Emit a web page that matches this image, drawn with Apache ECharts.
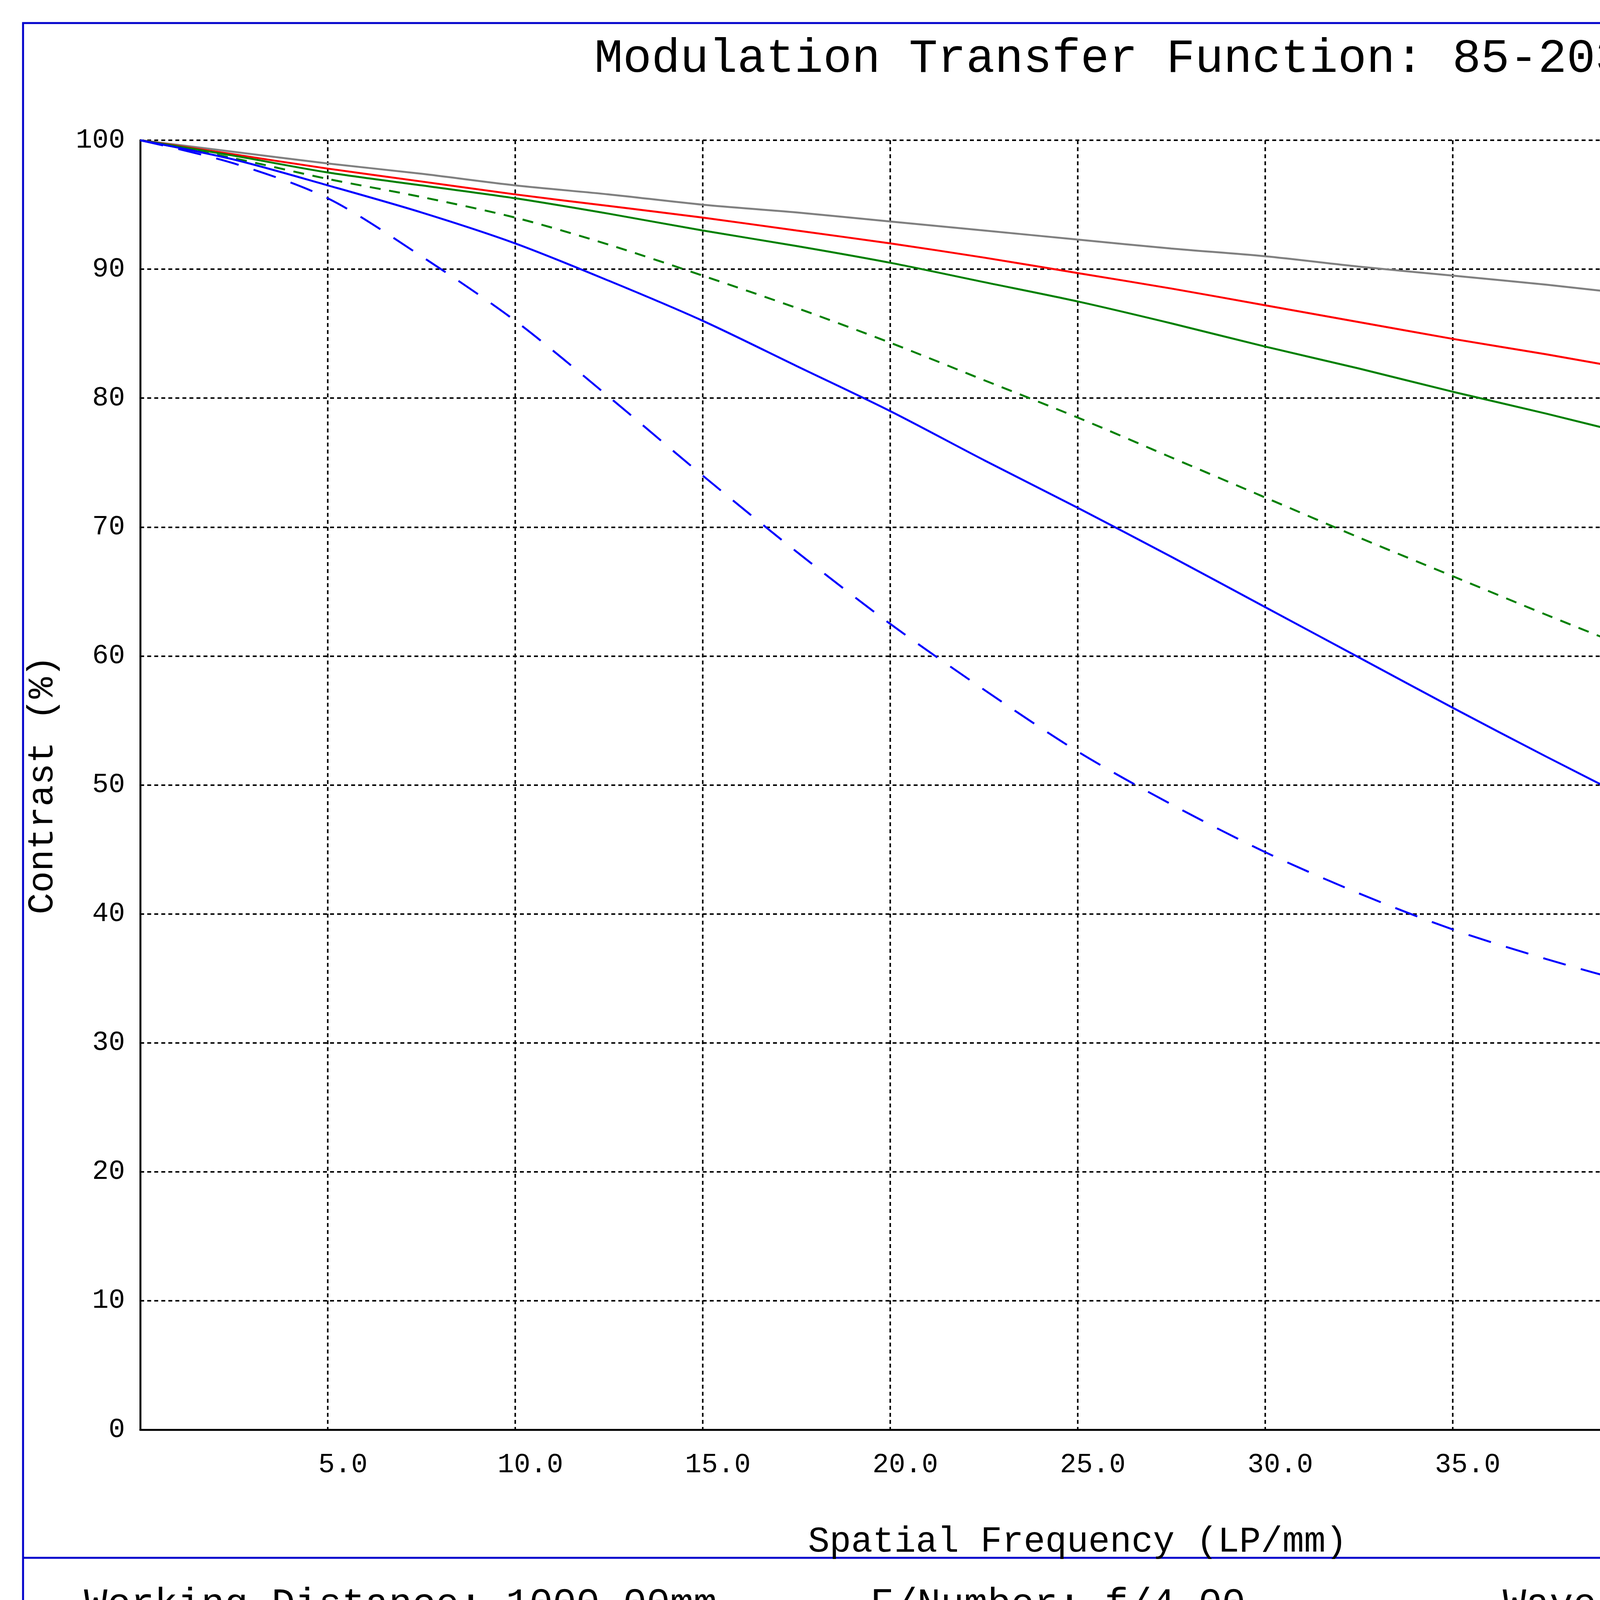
<!DOCTYPE html>
<html><head><meta charset="utf-8">
<script src="https://cdn.jsdelivr.net/npm/echarts@6/dist/echarts.min.js"></script>
<style>html,body{margin:0;padding:0;background:#fff;overflow:hidden}#c{width:6118px;height:4327px}</style>
</head><body><div id="c"></div>
<script>
(function() {
  'use strict';
  var S = 6118 / 1568;
  function s(v) { return Math.round(v * S); }
  var font = 'Liberation Mono';

  // ========== Data ==========
  var freq = [0, 2.5, 5, 7.5, 10, 12.5, 15, 17.5, 20, 22.5, 25, 27.5, 30, 32.5, 35, 37.5, 40, 42.5, 45, 47.5, 50];
  var diffLimit = [100, 99.1, 98.2, 97.4, 96.5, 95.8, 95, 94.4, 93.7, 93, 92.3, 91.6, 91, 90.2, 89.5, 88.8, 88, 87.3, 86.5, 85.8, 85];
  var ts00 = [100, 98.9, 97.8, 96.8, 95.8, 94.9, 94, 93, 92, 90.9, 89.7, 88.5, 87.2, 85.9, 84.6, 83.4, 82.1, 80.8, 79.5, 78.3, 77];
  var ts108T = [100, 98.8, 97.5, 96.5, 95.5, 94.3, 93, 91.8, 90.5, 89, 87.5, 85.8, 84, 82.3, 80.5, 78.8, 77, 75.3, 73.5, 71.8, 70];
  var ts108S = [100, 98.6, 97, 95.6, 94, 91.9, 89.5, 87, 84.3, 81.4, 78.5, 75.4, 72.3, 69.2, 66.2, 63.2, 60.3, 57.5, 54.8, 52, 49.3];
  var ts216T = [100, 98.5, 96.5, 94.4, 92, 89.1, 86, 82.5, 79, 75.2, 71.5, 67.7, 63.8, 59.9, 56, 52.2, 48.5, 44.8, 41.2, 37.9, 34.6];
  var ts216S = [100, 98.2, 95.5, 91, 86, 80.1, 74, 68.1, 62.5, 57.4, 52.6, 48.5, 44.8, 41.6, 38.8, 36.5, 34.5, 32.9, 31.5, 30.4, 29.6];
  var xTicks = ['5.0', '10.0', '15.0', '20.0', '25.0', '30.0', '35.0', '40.0', '45.0', '50.0'];
  var legendNames = ['Diff. Limit', 'TS,0.00mm', 'TS,10.8mm', 'TS,21.6mm'];
  var legendColors = ['#000000', '#ff0000', '#008000', '#0000ff'];

  function pairs(ys) { return freq.map(function(x, i) { return [x, ys[i]]; }); }
  function mk(name, ys, color, dash) {
    return {
      name: name, type: 'line', data: pairs(ys), smooth: 0.3, symbol: 'none',
      lineStyle: { color: color, width: 5, type: dash || 'solid' }
    };
  }

  var graphics = [
    { type: 'rect', shape: { x: s(15), y: s(15), width: s(1538), height: s(1077) }, style: { fill: 'none', stroke: '#0000cc', lineWidth: 5 } },
    { type: 'line', shape: { x1: s(15), y1: s(1022), x2: s(1553), y2: s(1022) }, style: { stroke: '#0000cc', lineWidth: 5 } },
    { type: 'text', x: s(55), y: s(1053), style: { text: 'Working Distance: 1000.00mm', font: '100px ' + font, fill: '#000', textVerticalAlign: 'middle' } },
    { type: 'text', x: s(571), y: s(1053), style: { text: 'F/Number: f/4.00', font: '100px ' + font, fill: '#000', textVerticalAlign: 'middle' } },
    { type: 'text', x: s(986), y: s(1053), style: { text: 'Wavelength Range: 486nm-656nm', font: '100px ' + font, fill: '#000', textVerticalAlign: 'middle' } },
    { type: 'text', x: s(1338), y: s(318), style: { text: 'Fields', font: '62px ' + font, fill: '#000', textVerticalAlign: 'middle' } },
    { type: 'line', shape: { x1: s(1322), y1: s(92), x2: s(1322), y2: s(938) }, style: { stroke: '#888', lineWidth: 4, lineDash: [14, 10] } },
    { type: 'text', x: s(1312), y: s(936), rotation: Math.PI / 2, style: { text: '10.00um', font: '58px ' + font, fill: '#999', textAlign: 'left', textVerticalAlign: 'middle' } }
  ];
  legendNames.forEach(function(n, i) {
    var y = [360, 402, 444, 487][i];
    graphics.push({ type: 'text', x: s(1373), y: s(y), style: { text: n, font: '62px ' + font, fill: '#000', textVerticalAlign: 'middle' } });
    graphics.push({ type: 'line', shape: { x1: s(1338), y1: s(i ? y - 3 : y - 2), x2: s(1362), y2: s(i ? y - 3 : y - 2) }, style: { stroke: legendColors[i], lineWidth: 5 } });
    if (i) graphics.push({ type: 'line', shape: { x1: s(1338), y1: s(y + 3), x2: s(1362), y2: s(y + 3) }, style: { stroke: legendColors[i], lineWidth: 5, lineDash: [14, 8] } });
  });

  var chart = echarts.init(document.getElementById('c'), null, { renderer: 'canvas' });
  chart.setOption({
    animation: false,
    backgroundColor: '#fff',
    title: {
      text: 'Modulation Transfer Function: 85-203, 50mm', left: 'center', top: s(22),
      textStyle: { fontFamily: font, fontWeight: 'normal', fontSize: 122, color: '#000' }
    },
    grid: { left: s(92), right: 6118 - s(1322), top: s(92), bottom: 4327 - s(938) },
    xAxis: {
      type: 'value', min: 0, max: 50, interval: 5,
      name: 'Spatial Frequency (LP/mm)', nameLocation: 'middle', nameGap: s(62),
      nameTextStyle: { fontFamily: font, fontSize: 92, color: '#000' },
      axisLine: { lineStyle: { color: '#000', width: 5 } },
      axisTick: { show: false },
      axisLabel: {
        fontFamily: font, fontSize: 70, color: '#000', margin: s(14), padding: [0, 0, 0, s(20)],
        formatter: function(v) { return v === 0 ? '' : xTicks[Math.round(v / 5) - 1]; }
      },
      splitLine: { lineStyle: { color: '#000', width: 4, type: [10, 8] } }
    },
    yAxis: {
      type: 'value', min: 0, max: 100, interval: 10,
      name: 'Contrast (%)', nameLocation: 'middle', nameGap: s(52),
      nameTextStyle: { fontFamily: font, fontSize: 92, color: '#000' },
      axisLine: { lineStyle: { color: '#000', width: 5 } },
      axisTick: { show: false },
      axisLabel: { fontFamily: font, fontSize: 70, color: '#000', margin: s(10) },
      splitLine: { lineStyle: { color: '#000', width: 4, type: [10, 8] } }
    },
    graphic: graphics,
    series: [
      mk('Diff. Limit', diffLimit, '#808080'),
      mk('TS,0.00mm', ts00, '#ff0000'),
      mk('TS,10.8mm T', ts108T, '#008000'),
      mk('TS,10.8mm S', ts108S, '#008000', [28, 22]),
      mk('TS,21.6mm T', ts216T, '#0000ff'),
      mk('TS,21.6mm S', ts216S, '#0000ff', [60, 40])
    ]
  });
})();
</script></body></html>
